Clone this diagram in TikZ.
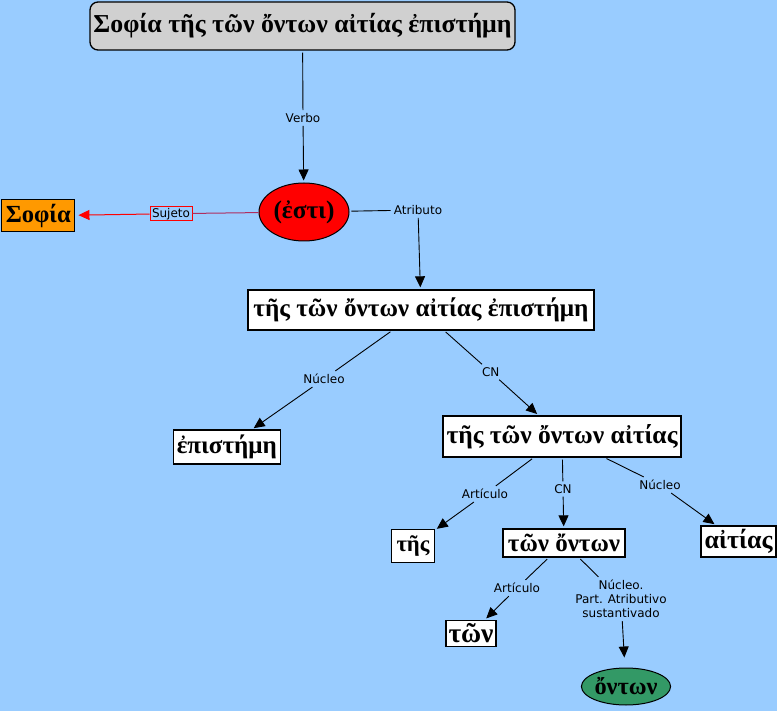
\documentclass[tikz,border=0pt]{standalone}
\usepackage{fontspec}
\setmainfont{Liberation Serif}
\newfontfamily\lblfont{DejaVu Sans}
\usetikzlibrary{arrows.meta,shapes.geometric}
\definecolor{bgblue}{RGB}{153,204,255}
\definecolor{titlegray}{RGB}{208,208,208}
\definecolor{cmorange}{RGB}{255,153,0}
\definecolor{cmgreen}{RGB}{51,153,102}
\definecolor{cmred}{RGB}{255,0,0}
\definecolor{sujline}{RGB}{175,45,95}
\newcommand{\gk}[2]{\resizebox{#1pt}{!}{\bfseries #2}}
\begin{document}
\begin{tikzpicture}[x=1pt,y=-1pt,
  box/.style={draw, line width=1.3pt, fill=white, inner sep=0pt},
  oval/.style={ellipse, draw, line width=1pt, inner sep=0pt},
  lbl/.style={font=\lblfont\fontsize{12}{14}\selectfont, inner sep=3pt},
  link/.style={line width=0.9pt, shorten <=2pt},
  arr/.style={line width=0.9pt, -{Triangle[length=11pt,width=10pt]}, shorten >=2pt}]
\fill[bgblue] (0,0) rectangle (777,711);
\useasboundingbox (0,0) rectangle (777,711);

% concepts
\node[box, fill=titlegray, rounded corners=8pt, minimum width=425, minimum height=48] (title) at (302.5,26) {\gk{418}{Σοφία τῆς τῶν ὄντων αἰτίας ἐπιστήμη}};
\node[oval, fill=cmred, minimum width=90, minimum height=58] (esti) at (304,212) {\gk{61}{(ἐστι)}};
\node[box, fill=cmorange, minimum width=73, minimum height=32] (sofia) at (38.3,215.8) {\gk{65}{Σοφία}};
\node[box, minimum width=346, minimum height=40] (b2) at (421,310) {\gk{335}{τῆς τῶν ὄντων αἰτίας ἐπιστήμη}};
\node[box, minimum width=107, minimum height=34] (epi) at (226.8,447) {\gk{100}{ἐπιστήμη}};
\node[box, minimum width=238, minimum height=41] (b3) at (562,436.5) {\gk{231}{τῆς τῶν ὄντων αἰτίας}};
\node[box, minimum width=43, minimum height=33] (tes) at (413,546) {\gk{33}{τῆς}};
\node[box, minimum width=122, minimum height=28] (tonon) at (564,543) {\gk{112}{τῶν ὄντων}};
\node[box, minimum width=75, minimum height=31] (aitias) at (738.5,541.5) {\gk{68}{αἰτίας}};
\node[box, minimum width=50, minimum height=26] (ton) at (471,633.5) {\gk{45}{τῶν}};
\node[oval, fill=cmgreen, minimum width=88, minimum height=37] (onton) at (626,686.5) {\gk{63}{ὄντων}};

% linking phrases
\node[lbl] (lverbo) at (303,118) {Verbo};
\node[lbl] (latr) at (418,210) {Atributo};
\node[lbl, draw=cmred, line width=0.8pt, fill=bgblue, inner sep=0pt, minimum width=42, minimum height=14] (lsuj) at (171,213.7) {Sujeto};
\node[lbl] (lnuc1) at (324,379) {Núcleo};
\node[lbl] (lcn1) at (490.7,372) {CN};
\node[lbl] (lart1) at (485,494) {Artículo};
\node[lbl] (lcn2) at (563,489) {CN};
\node[lbl] (lnuc2) at (660,485) {Núcleo};
\node[lbl] (lart2) at (517,588) {Artículo};
\node[lbl, align=center] (lnuc3) at (621,599) {Núcleo.\\Part. Atributivo\\sustantivado};

% connectors
\draw[link] (title) -- (lverbo);
\draw[arr] (lverbo) -- (esti);
\draw[link] (esti) -- (latr);
\draw[arr] (latr) -- (b2);
\draw[line width=1pt, sujline] (esti) -- (lsuj);
\draw[line width=1pt, cmred, -{Triangle[length=11pt,width=10pt]}, shorten >=3pt] (lsuj) -- (sofia);
\draw[link] (b2) -- (lnuc1);
\draw[arr] (lnuc1) -- (epi);
\draw[link] (b2) -- (lcn1);
\draw[arr] (lcn1) -- (b3);
\draw[link] (b3) -- (lart1);
\draw[arr] (lart1) -- (tes);
\draw[link] (b3) -- (lcn2);
\draw[arr] (lcn2) -- (tonon);
\draw[link] (b3) -- (lnuc2);
\draw[arr] (lnuc2) -- (aitias);
\draw[link] (tonon) -- (lart2);
\draw[arr] (lart2) -- (ton);
\draw[link] (tonon) -- (lnuc3);
\draw[arr, shorten >=10pt] (lnuc3) -- (onton);
\end{tikzpicture}
\end{document}
